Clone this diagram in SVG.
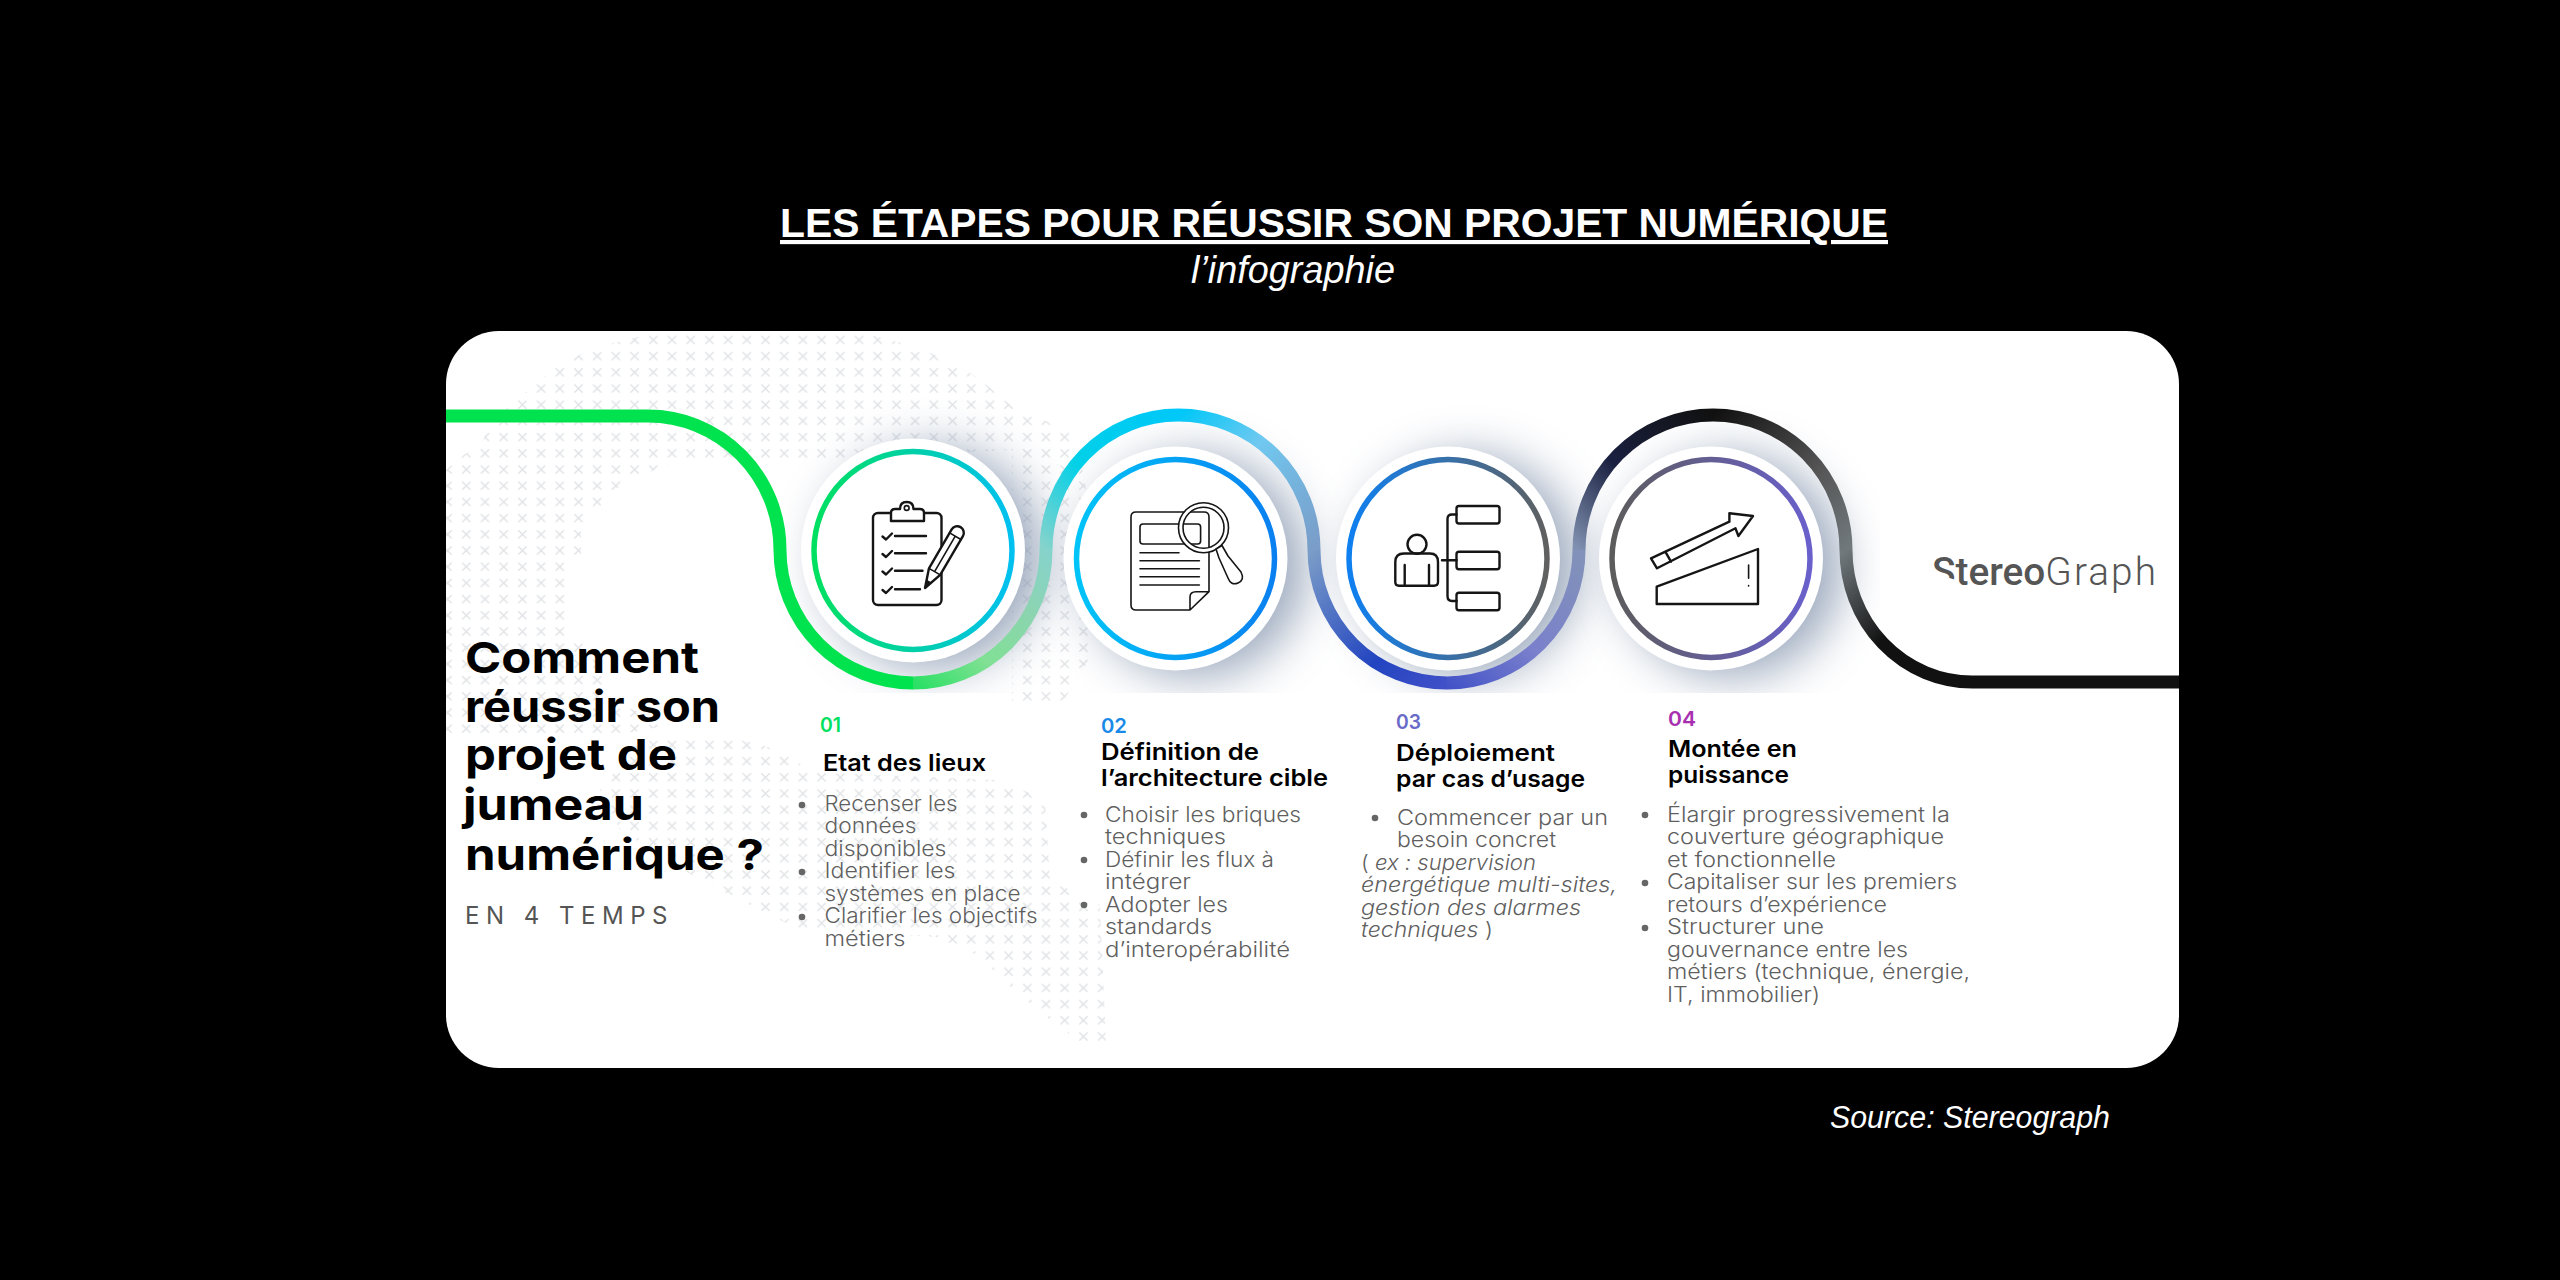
<svg xmlns="http://www.w3.org/2000/svg" width="2560" height="1280" viewBox="0 0 2560 1280">
<style>
text{font-family:"Inter","Noto Sans","Liberation Sans",sans-serif}
.hd{font-family:"Liberation Sans",Arial,sans-serif;fill:#fff}
.t{font-size:43px;font-weight:700;fill:#000}
.n{font-size:20px;font-weight:600}
.h{font-size:23px;font-weight:600;fill:#000}
.b{font-size:21px;font-weight:300;fill:#5f5f5f}
.i{font-style:italic}
.dot{fill:#666}
.halo{fill:#fff}
.ring{fill:none;stroke-width:5.5}
.ic{fill:none;stroke:#151515;stroke-width:2.4;stroke-linejoin:round;stroke-linecap:round}
.thin{stroke-width:1.6}
.seg{fill:none;stroke-width:13}
.sh{fill:#6f83a0;opacity:.72}
</style>
<defs>
<pattern id="xp" patternUnits="userSpaceOnUse" x="475.65" y="331.85" width="18.7" height="16.2">
<path d="M5.2 4L13.5 12.2M13.5 4L5.2 12.2" stroke="#e1e3e6" stroke-width="1.5" fill="none"/>
</pattern>
<clipPath id="map"><path d="M654 333H863L916 347 956 364 981 380 1001 397 1020 413 1075 430 1092 520 1092 655 1060 706 1012 706 1012 450 760 462 675 463 626 480 610 496 593 513 581 530 581 560 565 563 565 640 581 642 600 665 610 700 670 725 600 738 446 738 446 470 463 455 481 446 487 430 501 413 520 397 540 380 560 364 597 347Z"/>
<path d="M640 740 736 738 795 755 805 772 1000 780 1045 800 1050 880 1100 905 1106 1042 1080 1042 1050 1020 1014 990 977 955 936 937 800 930 700 880 620 830 600 790Z"/></clipPath>
<clipPath id="shc"><rect x="446" y="331" width="1434" height="362"/></clipPath>
<filter id="bl" x="-50%" y="-50%" width="200%" height="200%"><feGaussianBlur stdDeviation="24"/></filter>
<linearGradient id="r1" x1="0" x2="1" y1="0" y2="0"><stop offset="0" stop-color="#00e060"/><stop offset="1" stop-color="#00c0f0"/></linearGradient>
<linearGradient id="r2" x1="0" x2="1" y1="0" y2="0"><stop offset="0" stop-color="#00c4f8"/><stop offset="1" stop-color="#0a80f0"/></linearGradient>
<linearGradient id="r3" x1="0" x2="1" y1="0" y2="0"><stop offset="0" stop-color="#0f80f0"/><stop offset="1" stop-color="#606060"/></linearGradient>
<linearGradient id="r4" x1="0" x2="1" y1="0" y2="0"><stop offset="0" stop-color="#5c5c5c"/><stop offset="1" stop-color="#6a60cc"/></linearGradient>
<linearGradient id="g2" gradientUnits="userSpaceOnUse" x1="913" y1="683" x2="1046" y2="550"><stop offset="0" stop-color="#2ae064"/><stop offset=".35" stop-color="#80e094"/><stop offset=".7" stop-color="#8cd4b0"/><stop offset="1" stop-color="#86d3cb"/></linearGradient>
<linearGradient id="g3" gradientUnits="userSpaceOnUse" x1="1046" y1="550" x2="1178" y2="415"><stop offset="0" stop-color="#86d3cb"/><stop offset=".45" stop-color="#00d0e8"/><stop offset="1" stop-color="#00c8f8"/></linearGradient>
<linearGradient id="g4" gradientUnits="userSpaceOnUse" x1="1178" y1="415" x2="1314" y2="550"><stop offset="0" stop-color="#00c8f8"/><stop offset=".4" stop-color="#70c8f0"/><stop offset="1" stop-color="#7a9cc8"/></linearGradient>
<linearGradient id="g5" gradientUnits="userSpaceOnUse" x1="1314" y1="550" x2="1447" y2="683"><stop offset="0" stop-color="#7a9cc8"/><stop offset=".65" stop-color="#2244c0"/><stop offset="1" stop-color="#4050c8"/></linearGradient>
<linearGradient id="g6" gradientUnits="userSpaceOnUse" x1="1447" y1="683" x2="1579" y2="550"><stop offset="0" stop-color="#4454c8"/><stop offset=".45" stop-color="#7a80cc"/><stop offset="1" stop-color="#8292b8"/></linearGradient>
<linearGradient id="g7" gradientUnits="userSpaceOnUse" x1="1579" y1="550" x2="1713" y2="415"><stop offset="0" stop-color="#8090b0"/><stop offset=".45" stop-color="#1a2040"/><stop offset="1" stop-color="#111"/></linearGradient>
<linearGradient id="g8" gradientUnits="userSpaceOnUse" x1="1713" y1="415" x2="1846" y2="550"><stop offset="0" stop-color="#111"/><stop offset=".6" stop-color="#555"/><stop offset="1" stop-color="#70787c"/></linearGradient>
<linearGradient id="g9" gradientUnits="userSpaceOnUse" x1="1846" y1="550" x2="1972" y2="682"><stop offset="0" stop-color="#70787c"/><stop offset=".5" stop-color="#111"/><stop offset="1" stop-color="#111"/></linearGradient>
</defs>
<rect width="2560" height="1280" fill="#000"/>
<g id="header">
<text class="hd" x="780" y="237" font-size="41.500" font-weight="700" text-decoration="underline" textLength="1108" lengthAdjust="spacingAndGlyphs">LES ÉTAPES POUR RÉUSSIR SON PROJET NUMÉRIQUE</text>
<text class="hd" x="1191" y="283" font-size="38" font-style="italic" textLength="204" lengthAdjust="spacingAndGlyphs">l’infographie</text>
</g>
<rect id="card" x="446" y="331" width="1733" height="737" rx="53" fill="#fff"/>
<rect id="map-dots" x="446" y="333" width="700" height="720" fill="url(#xp)" clip-path="url(#map)"/>
<g id="shadows" clip-path="url(#shc)">
<circle class="sh" cx="933" cy="558" r="110" filter="url(#bl)"/>
<circle class="sh" cx="1195" cy="566" r="110" filter="url(#bl)"/>
<circle class="sh" cx="1468" cy="566" r="110" filter="url(#bl)"/>
<circle class="sh" cx="1731" cy="566" r="110" filter="url(#bl)"/>
</g>
<g id="connectors">
<path class="seg" stroke="#00e34f" d="M446 416H648A132 134 0 0 1 780 550A133 133 0 0 0 913 683"/>
<path class="seg" stroke="url(#g2)" d="M913 683A133 133 0 0 0 1046 550"/>
<path class="seg" stroke="url(#g3)" d="M1046 550A132 135 0 0 1 1178 415"/>
<path class="seg" stroke="url(#g4)" d="M1178 415A136 135 0 0 1 1314 550"/>
<path class="seg" stroke="url(#g5)" d="M1314 550A133 133 0 0 0 1447 683"/>
<path class="seg" stroke="url(#g6)" d="M1447 683A132 133 0 0 0 1579 550"/>
<path class="seg" stroke="url(#g7)" d="M1579 550A134 135 0 0 1 1713 415"/>
<path class="seg" stroke="url(#g8)" d="M1713 415A133 135 0 0 1 1846 550"/>
<path class="seg" stroke="url(#g9)" d="M1846 550A126 132 0 0 0 1972 682"/>
<path class="seg" stroke="#111" d="M1972 682H2179"/>
</g>
<g id="intro">
<text class="t" x="465" y="673" textLength="234" lengthAdjust="spacingAndGlyphs">Comment</text>
<text class="t" x="465" y="722" textLength="255" lengthAdjust="spacingAndGlyphs">réussir son</text>
<text class="t" x="465" y="770" textLength="212" lengthAdjust="spacingAndGlyphs">projet de</text>
<text class="t" x="463" y="820" textLength="181" lengthAdjust="spacingAndGlyphs">jumeau</text>
<text class="t" x="465" y="870" textLength="299" lengthAdjust="spacingAndGlyphs">numérique ?</text>
<text x="465" y="924" font-size="24" font-weight="400" fill="#555" letter-spacing="5.500" textLength="208">EN 4 TEMPS</text>
</g>
<g id="step1">
<circle class="halo" cx="913" cy="550.500" r="112"/>
<circle class="ring" cx="913" cy="550.500" r="99" stroke="url(#r1)"/>
<rect class="ic" x="873" y="513" width="68.500" height="92" rx="5"/>
<path class="ic" style="fill:#fff" d="M891 521V513Q891 509 895 509H900Q900 502 906.700 502T913.500 509H920Q924 509 924 513V521Z"/>
<circle class="ic thin" cx="906.700" cy="508" r="2.400"/>
<path class="ic" d="M882.500 536.500l3.500 3 6-6M895 536H926M882.500 554l3.500 3 6-6M895 553.300H926M882.500 571.500l3.500 3 6-6M895 570.700H922.500M882.500 590l3.500 3 6-6M895 589.300H920"/>
<g transform="translate(925 588) rotate(30.300)"><path class="ic" style="fill:#fff" d="M0 0L-6.500-19V-64A6.500 6.500 0 0 1 6.500-64V-19Z"/><path class="ic thin" d="M-6.500-19L6.500-19M0-19V-60M-6.500-60H6.500"/><path d="M0 0L-2.500-8H2.500Z" fill="#151515"/></g>
<text class="n" x="820" y="732" fill="#00e060" textLength="21" lengthAdjust="spacingAndGlyphs">01</text>
<text class="h" x="823" y="771" textLength="163" lengthAdjust="spacingAndGlyphs">Etat des lieux</text>
<circle class="dot" cx="802" cy="805" r="3.300"/><circle class="dot" cx="802" cy="872" r="3.300"/><circle class="dot" cx="802" cy="917" r="3.300"/>
<text class="b" x="824.500" y="811" textLength="133" lengthAdjust="spacingAndGlyphs">Recenser les</text>
<text class="b" x="824.500" y="833" textLength="92" lengthAdjust="spacingAndGlyphs">données</text>
<text class="b" x="824.500" y="856" textLength="122" lengthAdjust="spacingAndGlyphs">disponibles</text>
<text class="b" x="824.500" y="878" textLength="131" lengthAdjust="spacingAndGlyphs">Identifier les</text>
<text class="b" x="824.500" y="901" textLength="196" lengthAdjust="spacingAndGlyphs">systèmes en place</text>
<text class="b" x="824.500" y="923" textLength="213" lengthAdjust="spacingAndGlyphs">Clarifier les objectifs</text>
<text class="b" x="824.500" y="946" textLength="81" lengthAdjust="spacingAndGlyphs">métiers</text>
</g>
<g id="step2">
<circle class="halo" cx="1175.500" cy="558.500" r="112"/>
<circle class="ring" cx="1175.500" cy="558.500" r="99" stroke="url(#r2)"/>
<path class="ic thin" d="M1136 512H1204Q1209 512 1209 517V591.700L1190 610H1136Q1131 610 1131 605V517Q1131 512 1136 512ZM1190 610L1190 597Q1190 591.700 1196 591.700H1209"/>
<rect class="ic thin" x="1140" y="524" width="60.600" height="20" rx="3"/>
<path class="ic thin" d="M1140 552.700H1179M1140 560.700H1199.400M1140 568.700H1199.400M1140 576.700H1199.400M1140 585H1199.400"/>
<circle cx="1203.500" cy="527.700" r="22.500" fill="none" stroke="#fff" stroke-width="4"/>
<circle class="ic thin" cx="1203.500" cy="527.700" r="25"/><circle class="ic thin" cx="1203.500" cy="527.700" r="20.500"/>
<path class="ic thin" style="fill:#fff" d="M1216 549L1222 545.500 1228 556 1241 572Q1245 580 1238 583T1228 578L1219 558Z"/>
<text class="n" x="1101" y="733" fill="#1a8ae8" textLength="26" lengthAdjust="spacingAndGlyphs">02</text>
<text class="h" x="1101" y="760" textLength="158" lengthAdjust="spacingAndGlyphs">Définition de</text>
<text class="h" x="1101" y="786" textLength="227" lengthAdjust="spacingAndGlyphs">l’architecture cible</text>
<circle class="dot" cx="1084" cy="815" r="3.300"/><circle class="dot" cx="1084" cy="860" r="3.300"/><circle class="dot" cx="1084" cy="905" r="3.300"/>
<text class="b" x="1105" y="822" textLength="196" lengthAdjust="spacingAndGlyphs">Choisir les briques</text>
<text class="b" x="1105" y="844" textLength="121" lengthAdjust="spacingAndGlyphs">techniques</text>
<text class="b" x="1105" y="867" textLength="169" lengthAdjust="spacingAndGlyphs">Définir les flux à</text>
<text class="b" x="1105" y="889" textLength="86" lengthAdjust="spacingAndGlyphs">intégrer</text>
<text class="b" x="1105" y="912" textLength="123" lengthAdjust="spacingAndGlyphs">Adopter les</text>
<text class="b" x="1105" y="934" textLength="107" lengthAdjust="spacingAndGlyphs">standards</text>
<text class="b" x="1105" y="957" textLength="185" lengthAdjust="spacingAndGlyphs">d’interopérabilité</text>
</g>
<g id="step3">
<circle class="halo" cx="1448" cy="558.500" r="112"/>
<circle class="ring" cx="1448" cy="558.500" r="99" stroke="url(#r3)"/>
<circle class="ic" cx="1417" cy="544.300" r="9.500"/>
<path class="ic" d="M1404 553.500H1430Q1438 553.500 1438 562V582Q1438 585.700 1434 585.700H1399Q1395.300 585.700 1395.300 582V562Q1395.300 553.500 1404 553.500ZM1404.700 565V585.700M1429 565V585.700"/>
<path class="ic" d="M1442 560.300H1456.500M1456.500 514.500H1452Q1447.500 514.500 1447.500 519V596Q1447.500 601 1452 601H1456.500"/>
<rect class="ic" x="1456.500" y="506" width="43" height="17.500" rx="2.500"/>
<rect class="ic" x="1456.500" y="551.700" width="43" height="17.500" rx="2.500"/>
<rect class="ic" x="1456.500" y="592.700" width="43" height="17.500" rx="2.500"/>
<text class="n" x="1396" y="729" fill="#6a6ac8" textLength="25" lengthAdjust="spacingAndGlyphs">03</text>
<text class="h" x="1396" y="761" textLength="159" lengthAdjust="spacingAndGlyphs">Déploiement</text>
<text class="h" x="1396" y="787" textLength="189" lengthAdjust="spacingAndGlyphs">par cas d’usage</text>
<circle class="dot" cx="1375" cy="818" r="3.300"/>
<text class="b" x="1397" y="825" textLength="211" lengthAdjust="spacingAndGlyphs">Commencer par un</text>
<text class="b" x="1397" y="847" textLength="159" lengthAdjust="spacingAndGlyphs">besoin concret</text>
<text class="b" x="1361" y="870" textLength="175" lengthAdjust="spacingAndGlyphs">( <tspan class="i">ex : supervision</tspan></text>
<text class="b i" x="1361" y="892" textLength="256" lengthAdjust="spacingAndGlyphs">énergétique multi-sites,</text>
<text class="b i" x="1361" y="915" textLength="220" lengthAdjust="spacingAndGlyphs">gestion des alarmes</text>
<text class="b" x="1361" y="937" textLength="132" lengthAdjust="spacingAndGlyphs"><tspan class="i">techniques</tspan> )</text>
</g>
<g id="step4">
<circle class="halo" cx="1711" cy="558.500" r="112"/>
<circle class="ring" cx="1711" cy="558.500" r="99" stroke="url(#r4)"/>
<path class="ic" d="M1651 558.300L1729.400 521.700 1729.400 513.300 1753 516 1738.400 536 1735.500 528.300 1657 568.300ZM1665.300 551.700L1671 561.700"/>
<path class="ic" d="M1656.700 586.700L1758 549V604H1656.700Z"/>
<path class="ic thin" d="M1748.600 565V578.300M1748.600 585.500V586"/>
<text class="n" x="1668" y="726" fill="#a830b0" textLength="28" lengthAdjust="spacingAndGlyphs">04</text>
<text class="h" x="1668" y="757" textLength="129" lengthAdjust="spacingAndGlyphs">Montée en</text>
<text class="h" x="1668" y="783" textLength="121" lengthAdjust="spacingAndGlyphs">puissance</text>
<circle class="dot" cx="1645" cy="815" r="3.300"/><circle class="dot" cx="1645" cy="883" r="3.300"/><circle class="dot" cx="1645" cy="928" r="3.300"/>
<text class="b" x="1667" y="822" textLength="283" lengthAdjust="spacingAndGlyphs">Élargir progressivement la</text>
<text class="b" x="1667" y="844" textLength="277" lengthAdjust="spacingAndGlyphs">couverture géographique</text>
<text class="b" x="1667" y="867" textLength="169" lengthAdjust="spacingAndGlyphs">et fonctionnelle</text>
<text class="b" x="1667" y="889" textLength="290" lengthAdjust="spacingAndGlyphs">Capitaliser sur les premiers</text>
<text class="b" x="1667" y="912" textLength="220" lengthAdjust="spacingAndGlyphs">retours d’expérience</text>
<text class="b" x="1667" y="934" textLength="157" lengthAdjust="spacingAndGlyphs">Structurer une</text>
<text class="b" x="1667" y="957" textLength="241" lengthAdjust="spacingAndGlyphs">gouvernance entre les</text>
<text class="b" x="1667" y="979" textLength="303" lengthAdjust="spacingAndGlyphs">métiers (technique, énergie,</text>
<text class="b" x="1667" y="1002" textLength="153" lengthAdjust="spacingAndGlyphs">IT, immobilier)</text>
</g>
<g id="logo">
<text x="1932" y="585" font-size="38" fill="#555" style="font-family:Roboto,sans-serif" textLength="226" lengthAdjust="spacingAndGlyphs"><tspan font-weight="500">Stereo</tspan><tspan font-weight="300" letter-spacing="2">Graph</tspan></text>
<path d="M1930 572L1956 580V588H1930Z" fill="#fff"/>
</g>
<text id="source" class="hd" x="1830" y="1128" font-size="31" font-style="italic" textLength="280" lengthAdjust="spacingAndGlyphs">Source: Stereograph</text>
</svg>
